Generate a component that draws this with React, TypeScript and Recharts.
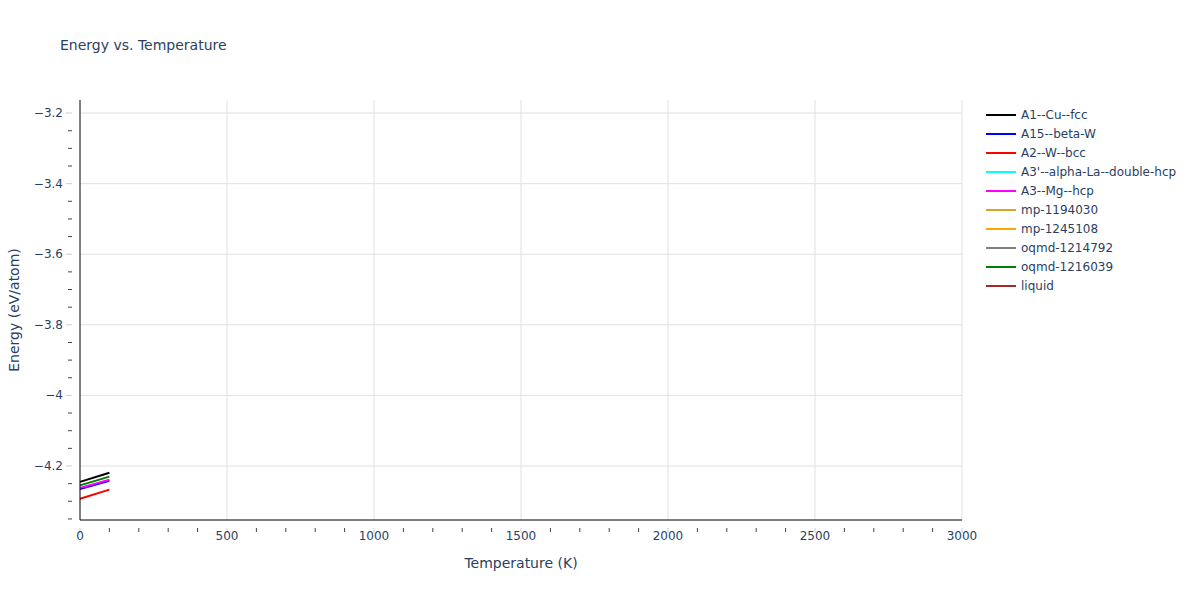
import React from 'react';
import { LineChart, Line, XAxis, YAxis, ReferenceLine, Label } from 'recharts';

// temperatures (K) sampled for every phase
const temperatures = [0, 100];

// energies (eV/atom), one array per phase
const a1CuFcc = [-4.245, -4.219];
const a15BetaW = [-4.265, -4.242];
const a2WBcc = [-4.293, -4.267];
const a3AlphaLa: (number | null)[] = [null, null];
const a3MgHcp = [-4.262, -4.239];
const mp1194030: (number | null)[] = [null, null];
const mp1245108: (number | null)[] = [null, null];
const oqmd1214792: (number | null)[] = [null, null];
const oqmd1216039 = [-4.255, -4.23];
const liquid: (number | null)[] = [null, null];

const xMajorTicks = [0, 500, 1000, 1500, 2000, 2500, 3000];
const xAllTicks = [
  0, 100, 200, 300, 400, 500, 600, 700, 800, 900, 1000, 1100, 1200, 1300, 1400, 1500,
  1600, 1700, 1800, 1900, 2000, 2100, 2200, 2300, 2400, 2500, 2600, 2700, 2800, 2900, 3000,
];
const yMajorTicks = [-4.2, -4, -3.8, -3.6, -3.4, -3.2];
const yAllTicks = [
  -4.35, -4.3, -4.25, -4.2, -4.15, -4.1, -4.05, -4, -3.95, -3.9, -3.85, -3.8, -3.75, -3.7,
  -3.65, -3.6, -3.55, -3.5, -3.45, -3.4, -3.35, -3.3, -3.25, -3.2,
];

const series = [
  { key: 'A1--Cu--fcc', values: a1CuFcc, color: '#000000' },
  { key: 'A15--beta-W', values: a15BetaW, color: '#0000ff' },
  { key: 'A2--W--bcc', values: a2WBcc, color: '#ff0000' },
  { key: "A3'--alpha-La--double-hcp", values: a3AlphaLa, color: '#00ffff' },
  { key: 'A3--Mg--hcp', values: a3MgHcp, color: '#ff00ff' },
  { key: 'mp-1194030', values: mp1194030, color: '#daa520' },
  { key: 'mp-1245108', values: mp1245108, color: '#ffa500' },
  { key: 'oqmd-1214792', values: oqmd1214792, color: '#808080' },
  { key: 'oqmd-1216039', values: oqmd1216039, color: '#008000' },
  { key: 'liquid', values: liquid, color: '#a52a2a' },
];

const tableData = temperatures.map((t, i) => {
  const row: Record<string, number | null> = { T: t };
  series.forEach(s => { row[s.key] = s.values[i]; });
  return row;
});

const FONT = '"DejaVu Sans", verdana, sans-serif';
const TEXT = '#2a3f5f';

const isMajor = (list: number[], v: number) => list.some(m => Math.abs(m - v) < 1e-6);
const fmt = (v: number) => (v < 0 ? '\u2212' + String(Math.abs(v)) : String(v));

const XTick = (props: any) => {
  const { x, y, payload } = props;
  const major = isMajor(xMajorTicks, payload.value);
  return (
    <g>
      {major ? (
        <>
          <line x1={x} x2={x} y1={y} y2={y + 5} stroke="#cccccc" />
          <text x={x} y={y + 12} textAnchor="middle" fontSize={12} fontFamily={FONT} fill={TEXT}>
            {payload.value}
          </text>
        </>
      ) : (
        <line x1={x} x2={x} y1={y} y2={y + 4} stroke="#444444" />
      )}
    </g>
  );
};

const YTick = (props: any) => {
  const { x, y, payload } = props;
  const major = isMajor(yMajorTicks, payload.value);
  return (
    <g>
      {major ? (
        <>
          <line x1={x - 6} x2={x} y1={y} y2={y} stroke="#cccccc" />
          <text x={x - 9} y={y + 4} textAnchor="end" fontSize={12} fontFamily={FONT} fill={TEXT}>
            {fmt(payload.value)}
          </text>
        </>
      ) : (
        <line x1={x - 4} x2={x} y1={y} y2={y} stroke="#444444" />
      )}
    </g>
  );
};

export default function App() {
  return (
    <div style={{ position: 'absolute', left: 0, top: 0, width: 1200, height: 600, background: '#fff' }}>
      <div
        style={{ position: 'absolute', left: 60, top: 37, fontFamily: FONT, fontSize: 14, color: TEXT }}
      >
        Energy vs. Temperature
      </div>
      <div
        style={{ position: 'absolute', left: 985, top: 105, fontFamily: FONT, fontSize: 12, color: TEXT }}
      >
        {series.map(s => (
          <div key={s.key} style={{ display: 'flex', alignItems: 'center', height: 19 }}>
            <svg width={36} height={10}>
              <line x1={1} x2={31} y1={5} y2={5} stroke={s.color} strokeWidth={2} />
            </svg>
            <span style={{ whiteSpace: 'nowrap' }}>{s.key}</span>
          </div>
        ))}
      </div>
      <LineChart
        width={1200}
        height={600}
        data={tableData}
        margin={{ top: 100, right: 238, bottom: 40, left: 20 }}
        style={{ position: 'absolute', left: 0, top: 0 }}
      >
        {xMajorTicks.slice(1).map(v => (
          <ReferenceLine key={'vx' + v} x={v} stroke="#e1e1e1" strokeWidth={1} />
        ))}
        {yMajorTicks.map(v => (
          <ReferenceLine key={'hy' + v} y={v} stroke="#e1e1e1" strokeWidth={1} />
        ))}
        <XAxis
          dataKey="T"
          type="number"
          domain={[0, 3000]}
          ticks={xAllTicks}
          interval={0}
          tick={<XTick />}
          tickLine={false}
          axisLine={{ stroke: '#000', strokeWidth: 1 }}
          height={40}
        >
          <Label
            value="Temperature (K)"
            position="insideBottom"
            offset={-8}
            style={{ fontFamily: FONT, fontSize: 14, fill: TEXT }}
          />
        </XAxis>
        <YAxis
          type="number"
          domain={[-4.353, -3.163]}
          ticks={yAllTicks}
          interval={0}
          allowDataOverflow
          tick={<YTick />}
          tickLine={false}
          axisLine={{ stroke: '#000', strokeWidth: 1 }}
          width={60}
        >
          <Label
            value="Energy (eV/atom)"
            angle={-90}
            position="insideLeft"
            offset={-6}
            style={{ fontFamily: FONT, fontSize: 14, fill: TEXT, textAnchor: 'middle' }}
          />
        </YAxis>
        {series.map(s => (
          <Line
            key={s.key}
            dataKey={s.key}
            stroke={s.color}
            strokeWidth={2}
            dot={false}
            activeDot={false}
            isAnimationActive={false}
            connectNulls={false}
          />
        ))}
      </LineChart>
    </div>
  );
}
